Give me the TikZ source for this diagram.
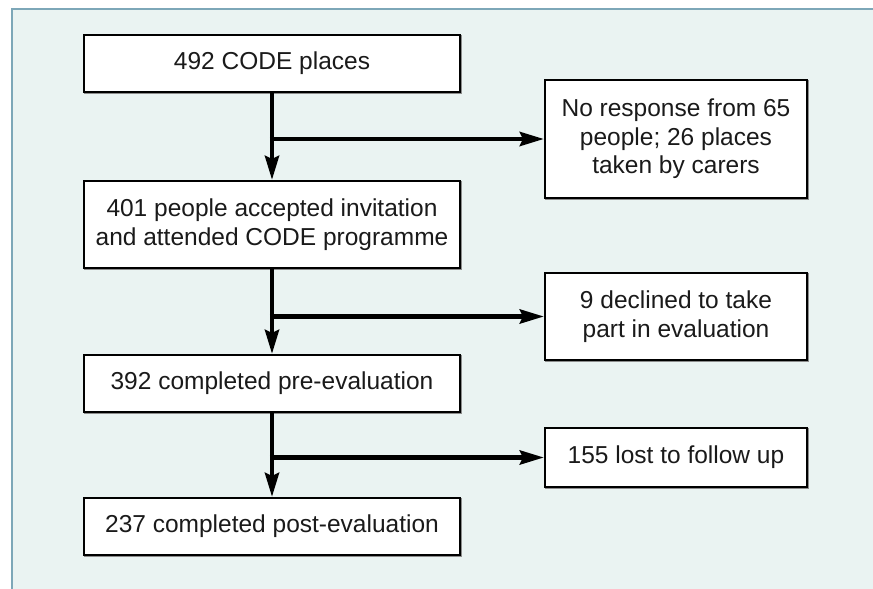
\documentclass[tikz,border=0pt]{standalone}
\usepackage{fontspec}
\setmainfont{Liberation Sans}
\usetikzlibrary{arrows.meta}
\definecolor{panelbg}{HTML}{EAF3F2}
\definecolor{panelline}{HTML}{7DA7B8}
\definecolor{txt}{HTML}{1A1A1A}
\tikzset{
  box/.style={draw=black, fill=white, line width=2.2pt, align=center,
    inner sep=0pt, text=txt, font=\fontsize{24.5}{28.5}\selectfont,
    preaction={draw=black!45, line width=2.2pt, transform canvas={shift={(1.2pt,-1.2pt)}}}},
  conn/.style={line width=4.4pt, -{Stealth[length=24pt,width=14pt,inset=3pt]}}
}
\begin{document}
\begin{tikzpicture}[x=1pt,y=-1pt]
\useasboundingbox (0,0) rectangle (873,589);
\fill[panelbg] (12,9) rectangle (873,589);
\draw[panelline, line width=2pt] (873,9) -- (12,9) -- (12,589);

\node[box, minimum width=376pt, minimum height=57pt] (b1) at (272,63.5) {492 CODE places};
\node[box, minimum width=376pt, minimum height=87pt] (b2) at (272,224.5) {401 people accepted invitation\\and attended CODE programme};
\node[box, minimum width=376pt, minimum height=57pt] (b3) at (272,383.5) {392 completed pre-evaluation};
\node[box, minimum width=376pt, minimum height=57pt] (b4) at (272,526.5) {237 completed post-evaluation};

\node[box, minimum width=262pt, minimum height=118pt] (ba) at (676,139) {No response from 65\\people; 26 places\\taken by carers};
\node[box, minimum width=262pt, minimum height=87pt] (bb) at (676,316.5) {9 declined to take\\part in evaluation};
\node[box, minimum width=262pt, minimum height=59pt] (bc) at (676,457.5) {155 lost to follow up};

\draw[conn] (b1.south) -- (b2.north);
\draw[conn] (b2.south) -- (b3.north);
\draw[conn] (b3.south) -- (b4.north);

\draw[conn] ([xshift=-2.2pt]b1.south |- ba.west) -- (ba.west);
\draw[conn] ([xshift=-2.2pt]b2.south |- bb.west) -- (bb.west);
\draw[conn] ([xshift=-2.2pt]b3.south |- bc.west) -- (bc.west);
\end{tikzpicture}
\end{document}
